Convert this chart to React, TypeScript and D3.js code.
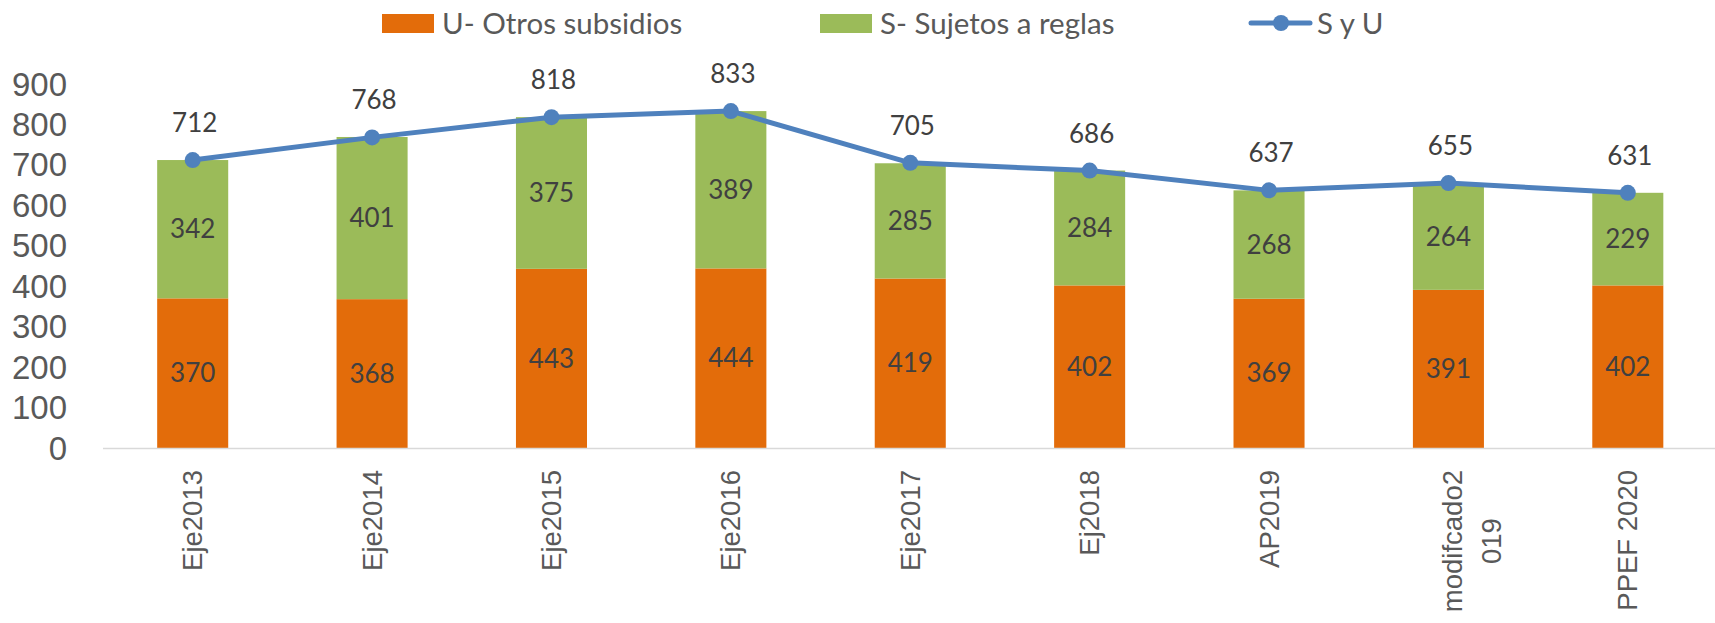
import React, { useRef, useEffect } from 'react';
import * as d3 from 'd3';

// datos
const categories = ['Eje2013', 'Eje2014', 'Eje2015', 'Eje2016', 'Eje2017', 'Ej2018', 'AP2019', 'modifcado2\n019', 'PPEF 2020'];
const otrosSubsidios = [370, 368, 443, 444, 419, 402, 369, 391, 402];
const sujetosReglas = [342, 401, 375, 389, 285, 284, 268, 264, 229];
const totalSyU = [712, 768, 818, 833, 705, 686, 637, 655, 631];
const yTicks = [0, 100, 200, 300, 400, 500, 600, 700, 800, 900];

const ORANGE = '#E36C0A';
const GREEN = '#9BBB59';
const BLUE = '#4F81BD';
const AXIS_FONT = '"Liberation Sans", Arial, sans-serif';
const LABEL_FONT = 'Lato, "Open Sans", sans-serif';

const App = () => {
  const svgRef = useRef<SVGSVGElement | null>(null);

  useEffect(() => {
    const width = 1715;
    const height = 623;
    const svg = d3.select(svgRef.current)
      .attr('width', width)
      .attr('height', height);
    svg.selectAll('*').remove();

    const x = d3.scaleBand<string>()
      .domain(categories)
      .range([103, 1717.5])
      .paddingInner(0.604)
      .paddingOuter(0.302);
    const y = d3.scaleLinear().domain([0, 900]).range([448, 84]);

    // etiquetas del eje Y
    svg.append('g')
      .selectAll('text')
      .data(yTicks)
      .enter().append('text')
      .attr('x', 67)
      .attr('y', d => y(d))
      .attr('dy', '0.35em')
      .attr('text-anchor', 'end')
      .style('font-family', AXIS_FONT)
      .style('font-size', '33px')
      .attr('fill', '#595959')
      .text(d => d);

    // barras apiladas
    const rows = categories.map((c, i) => ({ c, u: otrosSubsidios[i], s: sujetosReglas[i] }));
    const bars = svg.append('g');
    bars.selectAll('.u')
      .data(rows)
      .enter().append('rect')
      .attr('x', d => x(d.c)!)
      .attr('width', x.bandwidth())
      .attr('y', d => y(d.u))
      .attr('height', d => y(0) - y(d.u))
      .attr('fill', ORANGE);
    bars.selectAll('.s')
      .data(rows)
      .enter().append('rect')
      .attr('x', d => x(d.c)!)
      .attr('width', x.bandwidth())
      .attr('y', d => y(d.u + d.s))
      .attr('height', d => y(d.u) - y(d.u + d.s))
      .attr('fill', GREEN);

    // eje X
    svg.append('line')
      .attr('x1', 103).attr('x2', width)
      .attr('y1', 448.5).attr('y2', 448.5)
      .attr('stroke', '#d9d9d9')
      .attr('stroke-width', 1.5);

    // etiquetas dentro de las barras
    const inLabels = svg.append('g')
      .style('font-family', LABEL_FONT)
      .style('font-size', '26px')
      .attr('fill', '#404040')
      .attr('text-anchor', 'middle');
    rows.forEach(d => {
      const cx = x(d.c)! + x.bandwidth() / 2;
      inLabels.append('text').attr('x', cx).attr('y', y(d.u / 2)).attr('dy', '0.35em').text(d.u);
      inLabels.append('text').attr('x', cx).attr('y', y(d.u + d.s / 2)).attr('dy', '0.35em').text(d.s);
    });

    // línea S y U
    const line = d3.line<number>()
      .x((d, i) => x(categories[i])! + x.bandwidth() / 2)
      .y(d => y(d));
    svg.append('path')
      .datum(totalSyU)
      .attr('d', line)
      .attr('fill', 'none')
      .attr('stroke', BLUE)
      .attr('stroke-width', 5)
      .attr('stroke-linejoin', 'round');
    svg.append('g')
      .selectAll('circle')
      .data(totalSyU)
      .enter().append('circle')
      .attr('cx', (d, i) => x(categories[i])! + x.bandwidth() / 2)
      .attr('cy', d => y(d))
      .attr('r', 8)
      .attr('fill', BLUE);
    svg.append('g')
      .selectAll('text')
      .data(totalSyU)
      .enter().append('text')
      .attr('x', (d, i) => x(categories[i])! + x.bandwidth() / 2 + 2)
      .attr('y', d => y(d) - 37)
      .attr('dy', '0.35em')
      .attr('text-anchor', 'middle')
      .style('font-family', LABEL_FONT)
      .style('font-size', '26px')
      .attr('fill', '#404040')
      .text(d => d);

    // etiquetas del eje X (rotadas)
    const xLabels = svg.append('g')
      .style('font-family', AXIS_FONT)
      .style('font-size', '27.5px')
      .attr('fill', '#595959');
    categories.forEach(c => {
      const cx = x(c)! + x.bandwidth() / 2;
      const lines = c.split('\n');
      if (lines.length === 1) {
        xLabels.append('text')
          .attr('transform', `translate(${cx},470) rotate(-90)`)
          .attr('text-anchor', 'end')
          .attr('dy', '0.35em')
          .text(c);
      } else {
        const first = xLabels.append('text')
          .attr('transform', `translate(${cx + 4},470) rotate(-90)`)
          .attr('text-anchor', 'end')
          .attr('dy', '0.35em')
          .text(lines[0]);
        const w = (first.node() as SVGTextElement).getComputedTextLength();
        xLabels.append('text')
          .attr('transform', `translate(${cx + 43},${470 + w / 2}) rotate(-90)`)
          .attr('text-anchor', 'middle')
          .attr('dy', '0.35em')
          .text(lines[1]);
      }
    });

    // leyenda
    const legend = svg.append('g')
      .style('font-family', LABEL_FONT)
      .style('font-size', '29.5px')
      .attr('fill', '#595959');
    legend.append('rect').attr('x', 382).attr('y', 14).attr('width', 52).attr('height', 19).attr('fill', ORANGE);
    legend.append('text').attr('x', 442).attr('y', 24).attr('dy', '0.35em').text('U- Otros subsidios');
    legend.append('rect').attr('x', 820).attr('y', 14).attr('width', 52).attr('height', 19).attr('fill', GREEN);
    legend.append('text').attr('x', 880).attr('y', 24).attr('dy', '0.35em').text('S- Sujetos a reglas');
    legend.append('line').attr('x1', 1251).attr('x2', 1310).attr('y1', 23).attr('y2', 23)
      .attr('stroke', BLUE).attr('stroke-width', 5).attr('stroke-linecap', 'round');
    legend.append('circle').attr('cx', 1281).attr('cy', 23).attr('r', 8).attr('fill', BLUE);
    legend.append('text').attr('x', 1317).attr('y', 24).attr('dy', '0.35em').text('S y U');
  }, []);

  return (
    <svg ref={svgRef} style={{ position: 'absolute', left: 0, top: 0 }}></svg>
  );
};

export default App;
